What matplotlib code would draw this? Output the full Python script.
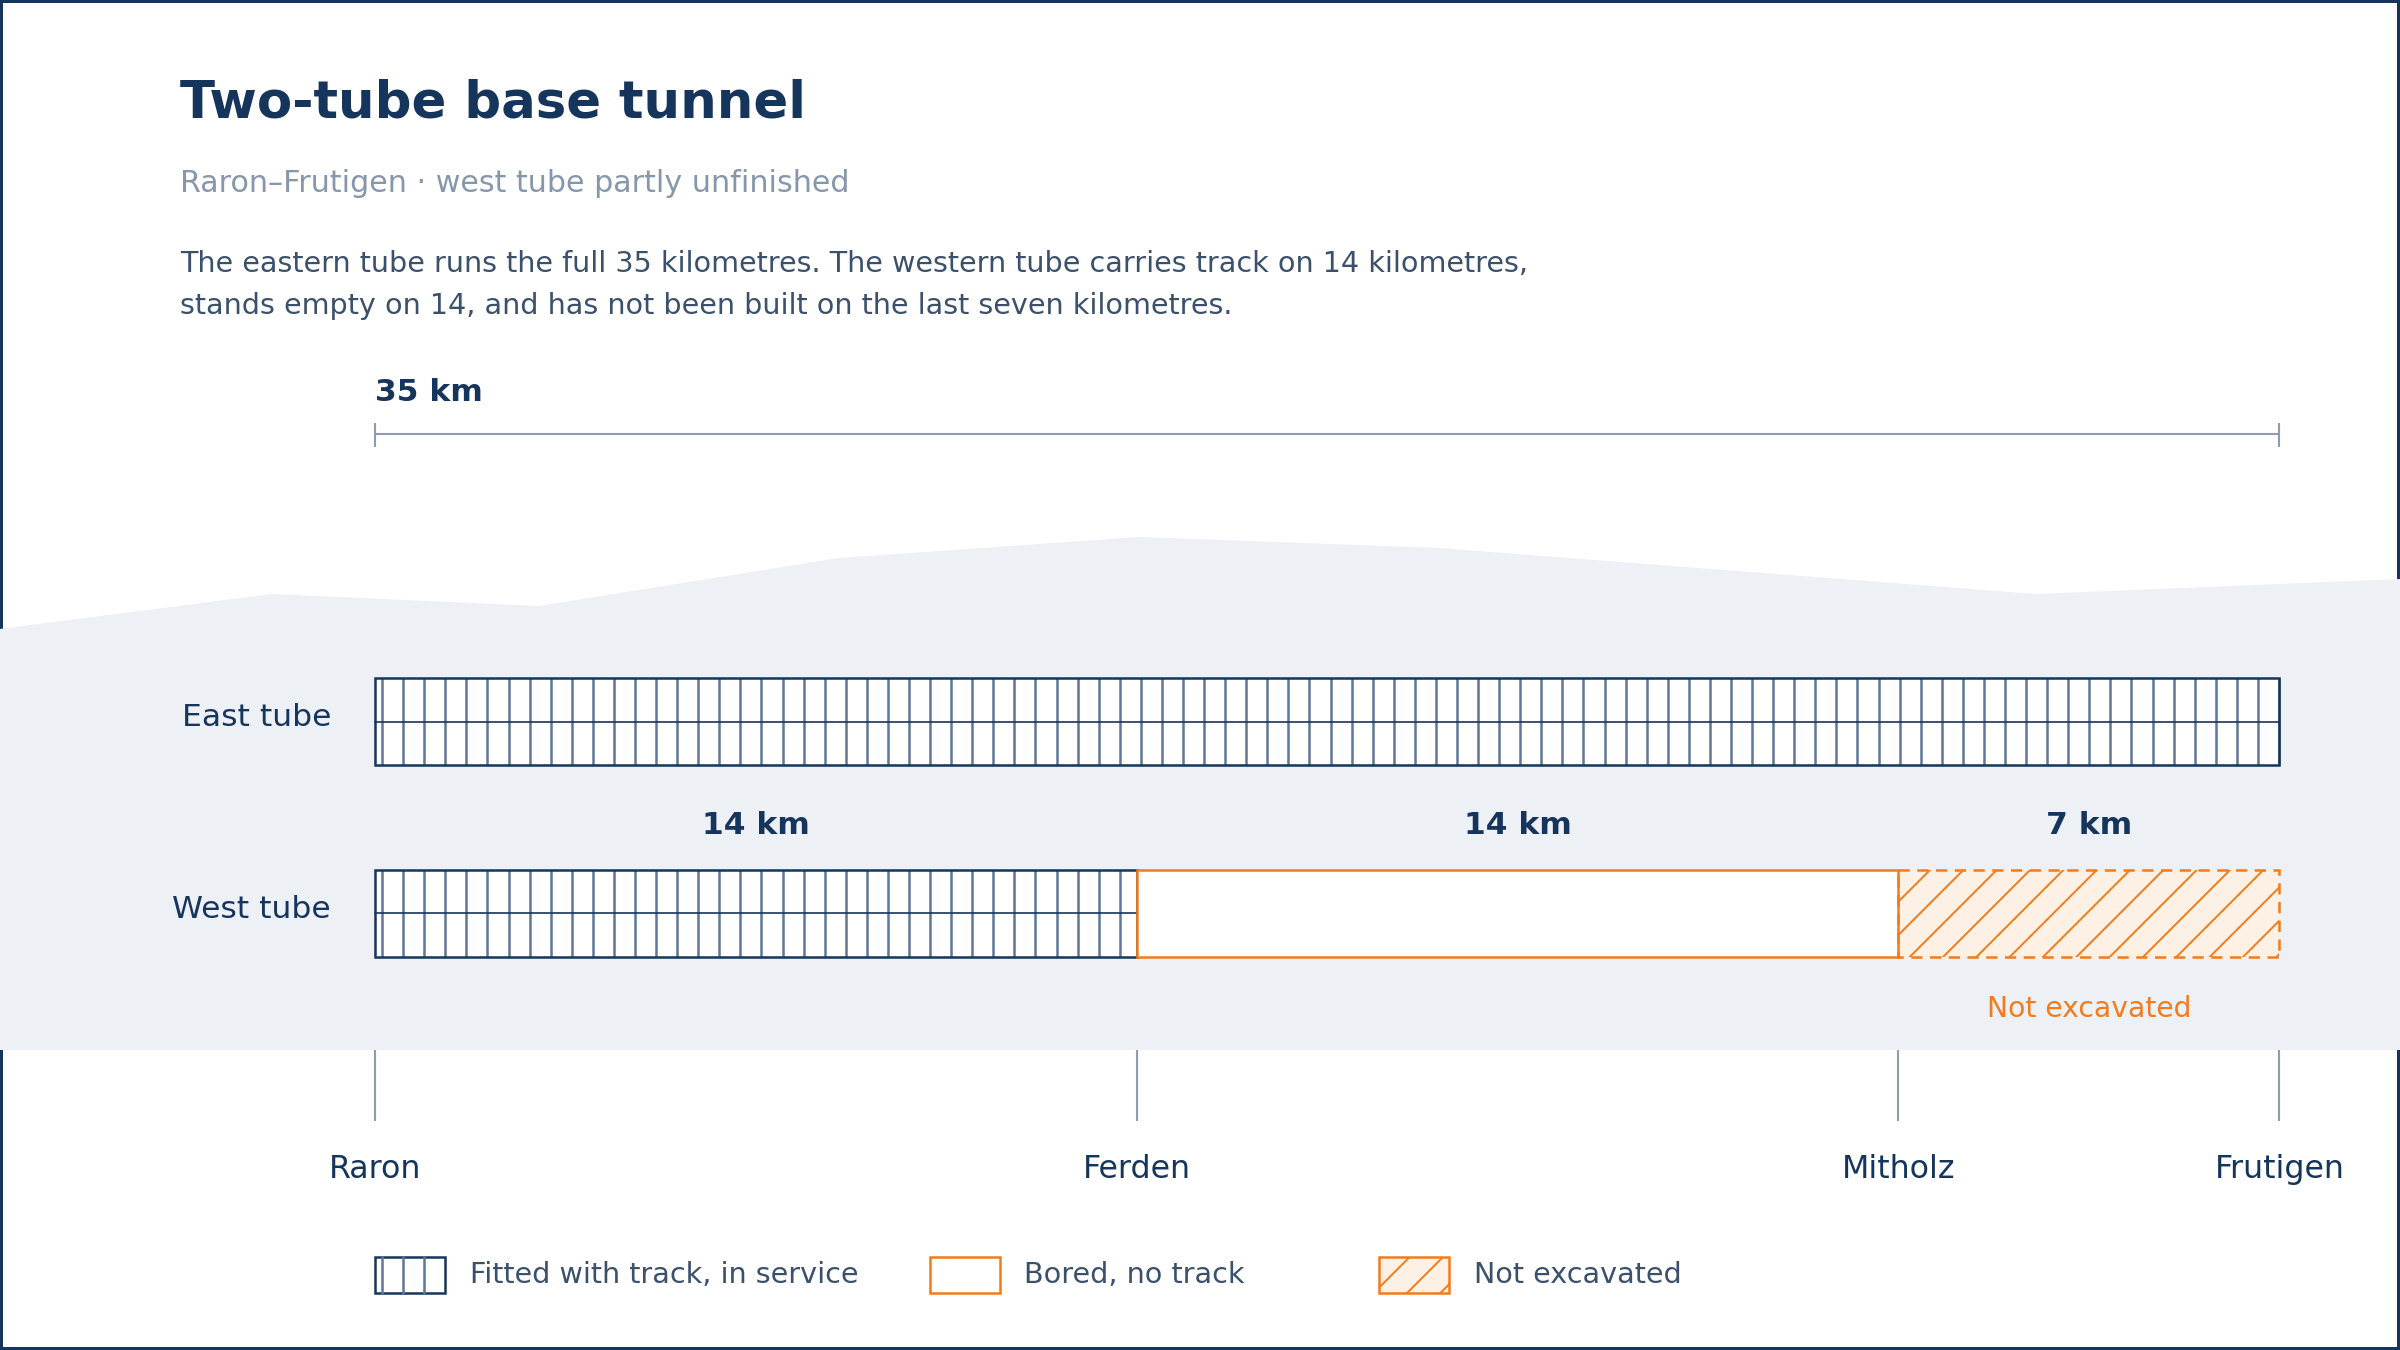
import matplotlib
matplotlib.use("Agg")
import matplotlib.pyplot as plt
from matplotlib.patches import Rectangle
import numpy as np

#%% data
tube_names = ["East tube", "West tube"]
stations = ["Raron", "Ferden", "Mitholz", "Frutigen"]
station_km = [0, 14, 28, 35]
total_km = 35

# west tube sections: start, length, kind
west_start = [0, 14, 28]
west_len = [14, 14, 7]
west_kind = ["track", "bored", "none"]
west_labels = ["14 km", "14 km", "7 km"]

# mountain ridge above the tunnel (km along line, top of ridge in drawing units)
ridge_km = [-6.89, -1.89, 3.01, 8.53, 14.06, 19.56, 30.53, 37.22]
ridge_top = [629, 594, 606, 558, 537, 548, 594, 579]
ridge_base = 1050

legend_labels = ["Fitted with track, in service", "Bored, no track", "Not excavated"]

#%% styles
navy = "#16355c"
slate = "#5f7795"
grey = "#8c9db1"
orange = "#f27c1b"
orange_light = "#fdf1e6"
hill = "#edf0f5"
body = "#3b506b"
sub = "#8797ab"

W, H = 2400, 1350
PX_KM = 54.42
X0 = 374.7

plt.rcParams["font.family"] = ["DejaVu Sans"]
plt.rcParams["hatch.linewidth"] = 0.7

fig = plt.figure(figsize=(12, 6.75), dpi=200)
fig.patch.set_facecolor("white")
fig.patch.set_edgecolor(navy)
fig.patch.set_linewidth(2.0)

ax = fig.add_axes([0, 0, 1, 1])
ax.set_xlim(-X0 / PX_KM, (W - X0) / PX_KM)
ax.set_ylim(H, 0)
ax.axis("off")
ax.patch.set_alpha(0)


def ftext(x, y, s, **kw):
    fig.text(x / W, 1 - y / H, s, **kw)


#%% header
ftext(180, 117, "Two-tube base tunnel", fontsize=18.5, fontweight="bold",
      color=navy, va="baseline")
ftext(180, 192, "Raron\u2013Frutigen \u00b7 west tube partly unfinished",
      fontsize=10.85, color=sub, va="baseline")
ftext(180, 272, "The eastern tube runs the full 35 kilometres. The western tube carries track on 14 kilometres,",
      fontsize=10.3, color=body, va="baseline")
ftext(180, 314, "stands empty on 14, and has not been built on the last seven kilometres.",
      fontsize=10.3, color=body, va="baseline")

# scale bar
ax.plot([0, total_km], [434, 434], color=grey, lw=0.75, zorder=2)
ax.vlines([0, total_km], 423, 447, color=grey, lw=0.75, zorder=2)
ax.text(0, 401, f"{total_km} km", fontsize=11.3, fontweight="bold", color=navy,
        va="baseline", ha="left")

#%% mountain
ax.fill_between(ridge_km, ridge_top, ridge_base, color=hill, lw=0, zorder=1)

#%% tubes
row_y = [721.5, 913]
bar_h = 87
sleeper_step = 0.3873
sleeper_off = 0.136


def track_pattern(y, x_start, length):
    xs = np.arange(x_start + sleeper_off, x_start + length, sleeper_step)
    ax.vlines(xs, y - bar_h / 2, y + bar_h / 2, color=slate, lw=0.9, zorder=3)
    ax.plot([x_start, x_start + length], [y, y], color=navy, lw=0.6, zorder=3)


# east tube: full length with track
ax.barh(row_y[0], total_km, left=0, height=bar_h, color="white", lw=0, zorder=2)
track_pattern(row_y[0], 0, total_km)
ax.barh(row_y[0], total_km, left=0, height=bar_h, fill=False, edgecolor=navy,
        lw=0.9, zorder=4)

# west tube
for s, l, k, lab in zip(west_start, west_len, west_kind, west_labels):
    y = row_y[1]
    if k == "track":
        ax.barh(y, l, left=s, height=bar_h, color="white", lw=0, zorder=2)
        track_pattern(y, s, l)
        ax.barh(y, l, left=s, height=bar_h, fill=False, edgecolor=navy,
                lw=0.9, zorder=4)
    elif k == "bored":
        ax.barh(y, l, left=s, height=bar_h, facecolor="white", edgecolor=orange,
                lw=0.9, zorder=4)
    else:
        ax.barh(y, l, left=s, height=bar_h, facecolor=orange_light,
                edgecolor=orange, hatch="//", lw=0, zorder=2)
        ax.barh(y, l, left=s, height=bar_h, fill=False, edgecolor=orange,
                lw=0.9, linestyle=(0, (4.5, 3)), zorder=4)
        ax.text(s + l / 2, 1017, "Not excavated", fontsize=10.2, color=orange,
                ha="center", va="baseline")
    ax.text(s + l / 2, 834, lab, fontsize=11.3, fontweight="bold", color=navy,
            ha="center", va="baseline")

for name, y in zip(tube_names, row_y):
    ftext(331, y - 4, name, fontsize=11.3, color=navy, ha="right", va="center")

#%% stations
ax.vlines(station_km, 1050, 1121, color=grey, lw=0.75, zorder=2)
for name, km in zip(stations, station_km):
    ax.text(km, 1178, name, fontsize=11.4, color=navy, ha="center", va="baseline")

#%% legend
lg_x = [374.7, 929.5, 1379]
lg_y, lg_w, lg_h = 1257, 70, 36
for i, (x, lab) in enumerate(zip(lg_x, legend_labels)):
    fx, fy = x / W, 1 - (lg_y + lg_h) / H
    fw, fh = lg_w / W, lg_h / H
    if i == 0:
        fig.patches.append(Rectangle((fx, fy), fw, fh, transform=fig.transFigure,
                                     facecolor="white", edgecolor=navy, lw=0.9))
        for dx in [7.6, 28.6, 49.7]:
            fig.lines.append(plt.Line2D([(x + dx) / W] * 2, [fy, fy + fh],
                                        transform=fig.transFigure, color=slate,
                                        lw=0.9))
    elif i == 1:
        fig.patches.append(Rectangle((fx, fy), fw, fh, transform=fig.transFigure,
                                     facecolor="white", edgecolor=orange, lw=0.9))
    else:
        fig.patches.append(Rectangle((fx, fy), fw, fh, transform=fig.transFigure,
                                     facecolor=orange_light, edgecolor=orange,
                                     hatch="//", lw=0.9))
    ftext(x + 95, 1283, lab, fontsize=10.3, color=body, va="baseline")

fig.savefig("out.png", dpi=200, facecolor=fig.get_facecolor(),
            edgecolor=fig.get_edgecolor())
